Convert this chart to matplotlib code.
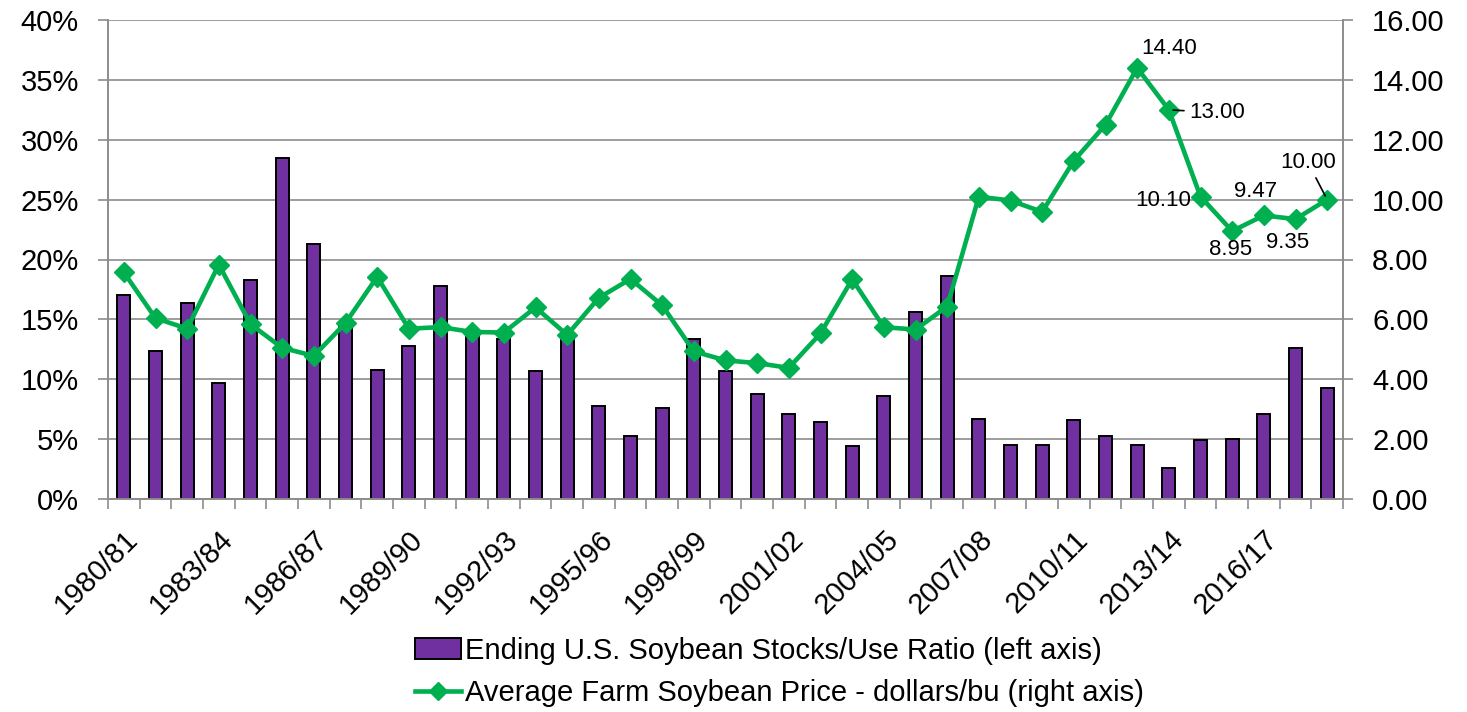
import matplotlib.pyplot as plt
import matplotlib.ticker as mtick
import matplotlib.transforms as mtrans
from matplotlib.lines import Line2D
from matplotlib.patches import Patch

plt.rcParams['font.family'] = ['Liberation Sans', 'DejaVu Sans']

# marketing years 1980/81 .. 2018/19
years = ['%d/%02d' % (y, (y + 1) % 100) for y in range(1980, 2019)]

# ending stocks / use ratio, percent (left axis)
stocks_use = [17.0, 12.4, 16.4, 9.7, 18.3, 28.5, 21.3, 14.8, 10.8, 12.8,
              17.8, 13.9, 13.4, 10.7, 13.5, 7.8, 5.3, 7.6, 13.4, 10.7,
              8.8, 7.1, 6.4, 4.4, 8.6, 15.6, 18.6, 6.7, 4.5, 4.5,
              6.6, 5.3, 4.5, 2.6, 4.9, 5.0, 7.1, 12.6, 9.3]

# average farm price, dollars per bushel (right axis)
price = [7.57, 6.04, 5.69, 7.83, 5.84, 5.05, 4.78, 5.88, 7.42, 5.69,
         5.74, 5.58, 5.56, 6.40, 5.48, 6.72, 7.35, 6.47, 4.93, 4.63,
         4.54, 4.38, 5.53, 7.34, 5.74, 5.66, 6.43, 10.10, 9.97, 9.59,
         11.30, 12.50, 14.40, 13.00, 10.10, 8.95, 9.47, 9.35, 10.00]

# labelled points: index, text offset in points, leader line
labels = [(32, (23, 14), False), (33, (35, -2), True), (34, (-27, -3), False),
          (35, (-1, -13), False), (36, (-6, 17), False), (37, (-6, -17), False),
          (38, (-14, 27), True)]

purple = '#7030A0'
green = '#00B050'
grey = '#8c8c8c'

fig = plt.figure(figsize=(14.67, 7.12), dpi=100)
ax = fig.add_axes([108 / 1467, 1 - 499 / 712, 1235 / 1467, 479 / 712])
ax2 = ax.twinx()

x = list(range(len(years)))
ax.bar(x, stocks_use, width=0.42, color=purple, edgecolor='black', linewidth=1.4, zorder=2)
ax2.plot(x, price, color=green, lw=3.3, marker='D', markersize=10, zorder=3)

ax.set_xlim(-0.5, len(years) - 0.5)
ax.set_ylim(0, 40)
ax2.set_ylim(0, 16)
ax.set_yticks(range(0, 41, 5))
ax.yaxis.set_major_formatter(mtick.FuncFormatter(lambda v, p: '%d%%' % v))
ax2.set_yticks(range(0, 17, 2))
ax2.yaxis.set_major_formatter(mtick.FuncFormatter(lambda v, p: '%.2f' % v))

ax.grid(axis='y', color=grey, lw=1.2, zorder=0)
ax.set_axisbelow(True)

# category boundaries as ticks, labels every third year
ax.set_xticks([i - 0.5 for i in range(len(years) + 1)])
ax.set_xticklabels([])
ax.set_xticks(x[::3], minor=True)
ax.set_xticklabels(years[::3], minor=True, rotation=45, ha='right', va='top',
                   rotation_mode='anchor', fontsize=21)
shift = mtrans.ScaledTranslation(-5 / 100, 0, fig.dpi_scale_trans)
for lab in ax.get_xticklabels(minor=True):
    lab.set_transform(lab.get_transform() + shift)
ax.tick_params(axis='x', which='minor', length=0, pad=19)
ax.tick_params(axis='x', which='major', length=7, color=grey, width=1.2)
ax.tick_params(axis='y', length=7, color=grey, width=1.2, labelsize=21, pad=14)
ax2.tick_params(axis='y', length=7, color=grey, width=1.2, labelsize=21, pad=14)

for a in (ax, ax2):
    a.spines['top'].set_visible(False)
    for side in ('left', 'right', 'bottom'):
        a.spines[side].set_color(grey)
        a.spines[side].set_linewidth(1.2)

for i, off, leader in labels:
    kw = {}
    if leader:
        kw['arrowprops'] = dict(arrowstyle='-', color='black', lw=1.2, shrinkA=2, shrinkB=3)
    ax2.annotate('%.2f' % price[i], (i, price[i]), xytext=off, textcoords='offset points',
                 ha='center', va='center', fontsize=16, zorder=5, **kw)

handles = [Patch(facecolor=purple, edgecolor='black', linewidth=1.4),
           Line2D([], [], color=green, lw=3.3, marker='D', markersize=9)]
names = ['Ending U.S. Soybean Stocks/Use Ratio (left axis)',
         'Average Farm Soybean Price - dollars/bu (right axis)']
fig.legend(handles, names, loc='upper left', bbox_to_anchor=(400 / 1467, 1 - 622 / 712),
           frameon=False, fontsize=21, handlelength=1.6, handletextpad=0.12,
           labelspacing=0.5, borderpad=0)

fig.savefig('out.png', dpi=100)
